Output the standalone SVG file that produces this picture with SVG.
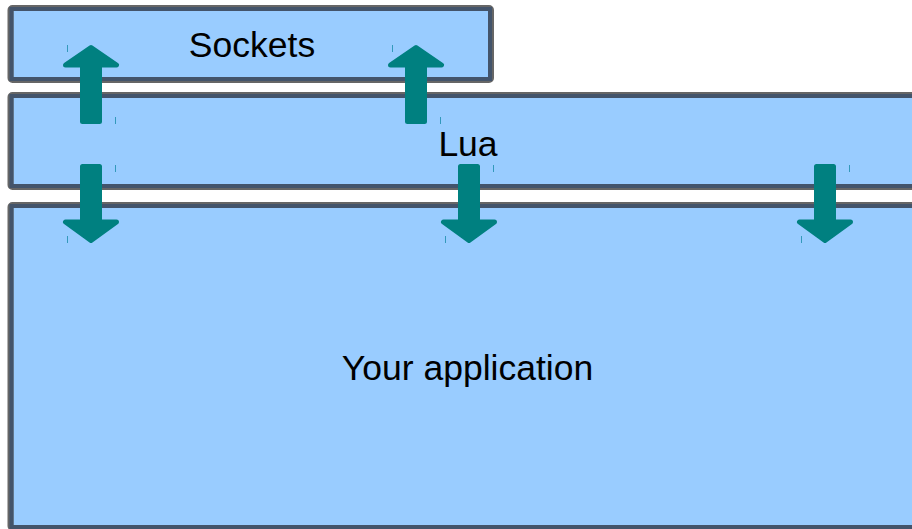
<svg xmlns="http://www.w3.org/2000/svg" width="912" height="529" viewBox="0 0 912 529">
<style>
.outer{fill:#99ccff;stroke:#666666;stroke-width:6}
.inner{fill:none;stroke:#43546b;stroke-width:4}
.lbl{font-family:"Liberation Sans",Arial,sans-serif;font-size:35.5px;fill:#000000;text-anchor:middle}
.arrow{fill:#008080;stroke:#008080;stroke-width:5;stroke-linejoin:round}
.tick{stroke:#3399bb;stroke-width:1}
</style>
<rect width="912" height="529" fill="#ffffff"/>
<g id="sockets">
<rect class="outer" x="10.5" y="8" width="480.5" height="72" rx="2"/>
<rect class="inner" x="11.5" y="9" width="478.5" height="70"/>
<text class="lbl" x="252" y="57">Sockets</text>
</g>
<g id="lua">
<rect class="outer" x="10.5" y="95" width="910" height="92" rx="2"/>
<rect class="inner" x="11.5" y="96" width="908" height="90"/>
<text class="lbl" x="468" y="155.5">Lua</text>
</g>
<g id="app">
<rect class="outer" x="10.5" y="205" width="910" height="323" rx="2"/>
<rect class="inner" x="11.5" y="206" width="908" height="321"/>
<text class="lbl" x="467.5" y="380">Your application</text>
</g>
<g id="connectors">
<polygon class="arrow" points="91,47.5 116.5,65 99.5,65 99.5,121.5 82.5,121.5 82.5,65 65.5,65"/>
<polygon class="arrow" points="91,47.5 116.5,65 99.5,65 99.5,121.5 82.5,121.5 82.5,65 65.5,65" transform="translate(325,0)"/>
<polygon class="arrow" points="82.5,166.5 99.5,166.5 99.5,222 116.5,222 91,240.5 65.5,222 82.5,222"/>
<polygon class="arrow" points="82.5,166.5 99.5,166.5 99.5,222 116.5,222 91,240.5 65.5,222 82.5,222" transform="translate(378,0)"/>
<polygon class="arrow" points="82.5,166.5 99.5,166.5 99.5,222 116.5,222 91,240.5 65.5,222 82.5,222" transform="translate(734,0)"/>
<g class="tick">
<line x1="67.5" y1="45" x2="67.5" y2="52"/>
<line x1="115.5" y1="117" x2="115.5" y2="124"/>
<line x1="392.5" y1="45" x2="392.5" y2="52"/>
<line x1="440.5" y1="117" x2="440.5" y2="124"/>
<line x1="115.5" y1="165" x2="115.5" y2="172"/>
<line x1="67.5" y1="236" x2="67.5" y2="243"/>
<line x1="493.5" y1="165" x2="493.5" y2="172"/>
<line x1="445.5" y1="236" x2="445.5" y2="243"/>
<line x1="849.5" y1="165" x2="849.5" y2="172"/>
<line x1="801.5" y1="236" x2="801.5" y2="243"/>
</g>
</g>
</svg>
